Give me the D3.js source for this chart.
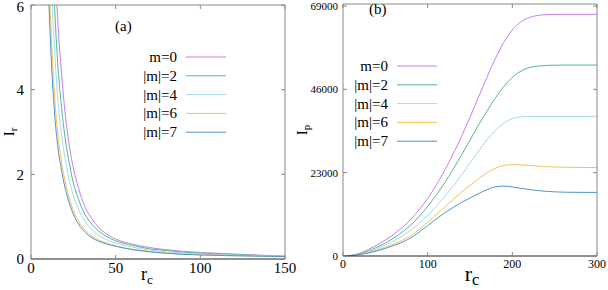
<!DOCTYPE html>
<html>
<head>
<meta charset="utf-8">
<script src="https://cdn.jsdelivr.net/npm/d3@7"></script>
<style>
  body { margin: 0; background: #fff; }
  text { font-family: "Liberation Serif", "DejaVu Serif", serif; fill: #000; }
</style>
</head>
<body>
<div id="chart"></div>
<script>
// ---------- data ----------
var names = ["m=0", "|m|=2", "|m|=4", "|m|=6", "|m|=7"]
var colors = ["#c37ef0", "#52b893", "#a6daf2", "#f0c45a", "#4f95c9"]

// panel (a): I_r vs r_c
var rA = [8, 10, 12, 14, 16, 18, 20, 22, 25, 28, 32, 36, 40, 45, 50, 60, 70, 80, 90, 100, 115, 130, 150]
var irM0 = [20, 14, 9.7, 7.2, 5.5, 4.4, 3.5, 2.85, 2.15, 1.68, 1.22, 0.95, 0.74, 0.58, 0.47, 0.35, 0.27, 0.22, 0.18, 0.155, 0.125, 0.1, 0.065]
var irM2 = [17, 11.5, 8, 5.9, 4.5, 3.6, 2.9, 2.4, 1.8, 1.42, 1.05, 0.82, 0.66, 0.52, 0.43, 0.32, 0.24, 0.2, 0.16, 0.14, 0.115, 0.09, 0.063]
var irM4 = [15, 9.8, 6.6, 4.9, 3.7, 2.95, 2.4, 1.97, 1.5, 1.18, 0.88, 0.69, 0.56, 0.45, 0.38, 0.28, 0.21, 0.17, 0.14, 0.12, 0.1, 0.08, 0.062]
var irM6 = [12, 7.6, 5.3, 3.8, 2.9, 2.3, 1.86, 1.52, 1.15, 0.9, 0.68, 0.54, 0.45, 0.37, 0.31, 0.23, 0.18, 0.14, 0.115, 0.1, 0.085, 0.072, 0.06]
var irM7 = [10.5, 6.8, 4.7, 3.4, 2.6, 2.1, 1.7, 1.4, 1.06, 0.83, 0.63, 0.5, 0.42, 0.35, 0.3, 0.22, 0.17, 0.135, 0.11, 0.095, 0.08, 0.07, 0.058]

// panel (b): I_p vs r_c
var rB = [0, 10, 20, 30, 40, 50, 60, 70, 80, 90, 100, 110, 120, 130, 140, 150, 160, 170, 180, 190, 200, 210, 220, 230, 240, 260, 280, 300]
var ipM0 = [0, 200, 800, 1800, 3000, 4400, 6000, 7900, 10100, 12800, 15900, 19500, 23600, 28100, 33000, 38300, 43800, 49300, 54500, 59000, 62400, 64600, 65800, 66400, 66600, 66700, 66700, 66700]
var ipM2 = [0, 180, 650, 1400, 2400, 3600, 5000, 6600, 8500, 10900, 13700, 16800, 20200, 23900, 27900, 32000, 36100, 40000, 43600, 46800, 49300, 51000, 52000, 52400, 52600, 52700, 52700, 52700]
var ipM4 = [0, 150, 550, 1200, 2000, 3000, 4200, 5500, 7100, 9000, 11200, 13700, 16400, 19300, 22400, 25600, 28900, 32000, 34700, 36700, 37900, 38400, 38550, 38550, 38550, 38550, 38550, 38550]
var ipM6 = [0, 120, 450, 950, 1600, 2400, 3300, 4300, 5600, 7300, 9300, 11400, 13500, 15600, 17600, 19500, 21300, 22900, 24200, 25000, 25200, 25150, 25000, 24800, 24650, 24500, 24450, 24400]
var ipM7 = [0, 100, 400, 850, 1400, 2100, 2900, 3800, 5000, 6600, 8400, 10200, 11900, 13400, 14800, 16000, 17200, 18300, 19100, 19300, 19050, 18700, 18350, 18050, 17850, 17620, 17560, 17550]

var ticksAx = [0, 50, 100, 150]
var ticksAy = [0, 2, 4, 6]
var ticksBx = [0, 100, 200, 300]
var ticksBy = [0, 23000, 46000, 69000]

var svg = d3.select("#chart").append("svg")
    .attr("width", 608)
    .attr("height", 290)

function drawPanel(p) {
  var g = svg.append("g")
  var x = p.x, y = p.y
  var x0 = x.range()[0], x1 = x.range()[1]
  var y0 = y.range()[0], y1 = y.range()[1]

  g.append("clipPath").attr("id", p.id + "-clip")
    .append("rect")
      .attr("x", x0).attr("y", y1)
      .attr("width", x1 - x0).attr("height", y0 - y1)

  // curves
  var line = d3.line()
    .x(function(d) { return x(d[0]) })
    .y(function(d) { return y(d[1]) })
    .curve(d3.curveMonotoneX)

  g.append("g").attr("clip-path", "url(#" + p.id + "-clip)")
    .selectAll("path")
    .data(p.series)
    .enter()
    .append("path")
      .attr("d", function(s) { return line(p.xs.map(function(v, i) { return [v, s[i]] })) })
      .attr("stroke", function(s, i) { return colors[i] })
      .attr("stroke-width", 1)
      .attr("fill", "none")

  // frame
  g.append("path")
    .attr("d", "M" + x0 + "," + y0 + "V" + y1 + "H" + x1 + "V" + y0)
    .attr("stroke", "#888").attr("fill", "none")
  g.append("line")
    .attr("x1", x0).attr("x2", x1).attr("y1", y0).attr("y2", y0)
    .attr("stroke", "#222")

  // ticks (inward, mirrored)
  p.xt.forEach(function(t) {
    g.append("line").attr("x1", x(t)).attr("x2", x(t)).attr("y1", y0).attr("y2", y0 - 4).attr("stroke", "#888")
    g.append("line").attr("x1", x(t)).attr("x2", x(t)).attr("y1", y1).attr("y2", y1 + 4).attr("stroke", "#888")
  })
  p.yt.forEach(function(t) {
    g.append("line").attr("x1", x0).attr("x2", x0 + 4).attr("y1", y(t)).attr("y2", y(t)).attr("stroke", "#888")
    g.append("line").attr("x1", x1).attr("x2", x1 - 4).attr("y1", y(t)).attr("y2", y(t)).attr("stroke", "#888")
  })

  g.selectAll(".xl").data(p.xt).enter().append("text")
    .attr("x", function(d) { return x(d) })
    .attr("y", p.xlabY)
    .attr("text-anchor", "middle")
    .style("font-size", p.xtSize + "px")
    .text(function(d) { return d })

  g.selectAll(".yl").data(p.yt).enter().append("text")
    .attr("x", x0 - p.ylabGap)
    .attr("y", function(d) { return Math.max(y(d) + p.ytSize * 0.35, p.ytSize * 0.8) })
    .attr("text-anchor", "end")
    .style("font-size", p.ytSize + "px")
    .text(function(d) { return d })

  // axis titles
  var xt = g.append("text")
    .attr("x", p.xTitle[0]).attr("y", p.xTitle[1])
    .attr("text-anchor", "middle")
    .style("font-size", p.xTitleSize + "px")
  xt.append("tspan").text("r")
  xt.append("tspan").attr("dy", 4).style("font-size", (p.xTitleSize * 0.75) + "px").text("c")

  var yt = g.append("text")
    .attr("transform", "translate(" + p.yTitle[0] + "," + p.yTitle[1] + ") rotate(-90)")
    .attr("text-anchor", "middle")
    .style("font-size", "15px")
  yt.append("tspan").text("I")
  yt.append("tspan").attr("dy", 3).style("font-size", "11px").text(p.sub)

  // panel label
  g.append("text")
    .attr("x", p.tag[0]).attr("y", p.tag[1])
    .style("font-size", "15px")
    .text(p.tagText)

  // legend
  var lg = g.selectAll(".leg").data(names).enter().append("g")
    .attr("transform", function(d, i) { return "translate(0," + (p.leg[1] + i * 18.8) + ")" })
  lg.append("text")
    .attr("x", p.leg[0]).attr("y", 5)
    .attr("text-anchor", "end")
    .style("font-size", "15px")
    .text(function(d) { return d })
  lg.append("line")
    .attr("x1", p.leg[0] + 9).attr("x2", p.leg[0] + 49)
    .attr("y1", 0).attr("y2", 0)
    .attr("stroke", function(d, i) { return colors[i] })
    .attr("stroke-width", 1)
}

drawPanel({
  id: "a",
  x: d3.scaleLinear().domain([0, 150]).range([31, 285]),
  y: d3.scaleLinear().domain([0, 6]).range([259, 5]),
  xs: rA,
  series: [irM0, irM2, irM4, irM6, irM7],
  xt: ticksAx, yt: ticksAy,
  xtSize: 15, ytSize: 15, xlabY: 273, ylabGap: 7,
  xTitle: [147, 280], xTitleSize: 18,
  yTitle: [14, 132], sub: "r",
  tag: [115, 31], tagText: "(a)",
  leg: [177, 57]
})

drawPanel({
  id: "b",
  x: d3.scaleLinear().domain([0, 300]).range([343, 597]),
  y: d3.scaleLinear().domain([0, 69550]).range([256, 4]),
  xs: rB,
  series: [ipM0, ipM2, ipM4, ipM6, ipM7],
  xt: ticksBx, yt: ticksBy,
  xtSize: 12, ytSize: 11, xlabY: 268, ylabGap: 5,
  xTitle: [472, 281], xTitleSize: 22,
  yTitle: [307, 130], sub: "p",
  tag: [369, 14], tagText: "(b)",
  leg: [388, 66]
})
</script>
</body>
</html>
